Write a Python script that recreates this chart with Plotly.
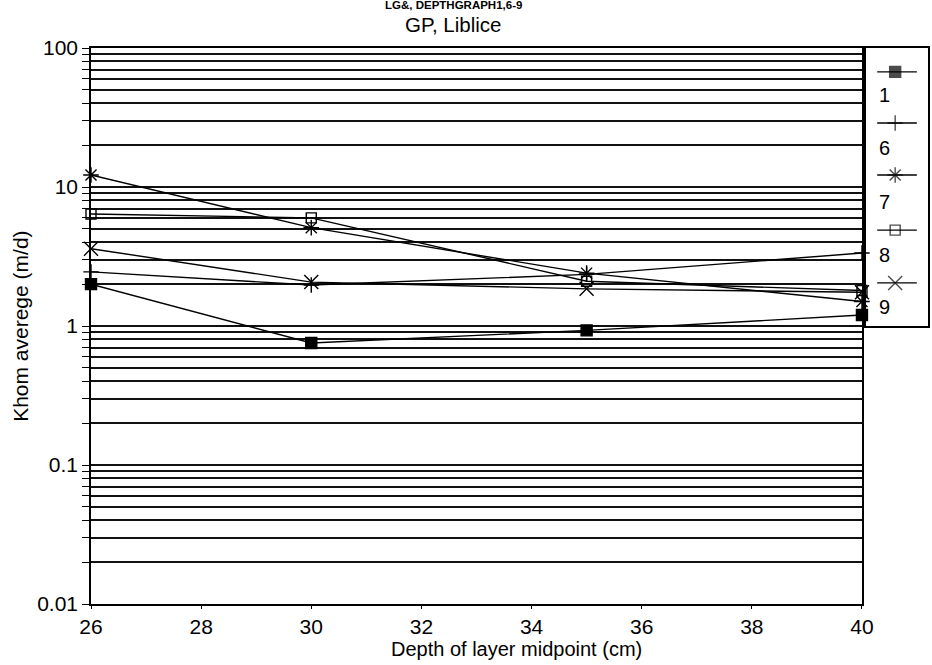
import plotly.graph_objects as go

# Depth of layer midpoint (cm)
depths = [26, 30, 35, 40]

# Average Khom (m/d) for each profile
series_names = ["1", "6", "7", "8", "9"]
khom_1 = [2.0, 0.755, 0.93, 1.2]
khom_6 = [2.45, 1.97, 2.35, 3.35]
khom_7 = [12.2, 5.1, 2.4, 1.5]
khom_8 = [6.4, 6.0, 2.1, 1.8]
khom_9 = [3.6, 2.07, 1.85, 1.75]

# Log-axis ticks: labels on decades, grid on every 1..9 step
decades = [0.01, 0.1, 1, 10, 100]
decade_labels = ["0.01", "0.1", "1", "10", "100"]

FONT = "Liberation Sans, Arial, Helvetica, sans-serif"
INK = "#000000"

series_values = [khom_1, khom_6, khom_7, khom_8, khom_9]
symbols = ["square", "cross-thin-open", "asterisk-open", "square-open", "x-thin-open"]
sizes = [11, 11, 13, 10, 14]

fig = go.Figure()

for name, vals, sym, sz in zip(series_names, series_values, symbols, sizes):
    fig.add_trace(go.Scatter(
        x=depths, y=vals, name=name, mode="lines+markers",
        line=dict(color=INK, width=1.4),
        marker=dict(symbol=sym, size=sz, color=INK,
                    line=dict(color=INK, width=1.4)),
        cliponaxis=False, showlegend=False,
    ))

# Key panel: a small separate axis pair to the right of the plot
key_rows = [0.914, 0.730, 0.543, 0.345, 0.155]
key_label_rows = [0.831, 0.640, 0.446, 0.255, 0.068]
for name, sym, sz, ry in zip(series_names, symbols, sizes, key_rows):
    fig.add_trace(go.Scatter(
        x=[0.18, 0.47, 0.82], y=[ry, ry, ry], mode="lines+markers",
        line=dict(color=INK, width=1.4),
        marker=dict(symbol=sym, size=[0, sz, 0], color=INK,
                    line=dict(color=INK, width=1.4)),
        xaxis="x2", yaxis="y2", showlegend=False, hoverinfo="skip",
        cliponaxis=False,
    ))

annotations = []
for name, ly in zip(series_names, key_label_rows):
    annotations.append(dict(
        x=0.17, y=ly, xref="x2", yref="y2", text=name, showarrow=False,
        xanchor="left", yanchor="middle",
        font=dict(family=FONT, size=20, color=INK),
    ))

# Titles
annotations += [
    dict(x=0.4325, y=1.0765, xref="paper", yref="paper",
         text="<b>LG&amp;, DEPTHGRAPH1,6-9</b>", showarrow=False,
         xanchor="center", yanchor="middle",
         font=dict(family=FONT, size=11.5, color=INK)),
    dict(x=0.4325, y=1.043, xref="paper", yref="paper",
         text="GP, Liblice", showarrow=False,
         xanchor="center", yanchor="middle",
         font=dict(family=FONT, size=20.5, color=INK)),
    dict(x=0.5089, y=-0.081, xref="paper", yref="paper",
         text="Depth of layer midpoint (cm)", showarrow=False,
         xanchor="center", yanchor="middle",
         font=dict(family=FONT, size=20, color=INK)),
    dict(x=-0.085, y=0.5, xref="paper", yref="paper",
         text="Khom averege (m/d)", showarrow=False, textangle=-90,
         xanchor="center", yanchor="middle",
         font=dict(family=FONT, size=21, color=INK)),
]

grid_vals = []
grid_text = []
for d, lab in zip(decades, decade_labels):
    if d == decades[-1]:
        grid_vals.append(d)
        grid_text.append(lab)
        break
    for k in range(1, 10):
        grid_vals.append(d * k)
        grid_text.append(lab if k == 1 else "")

fig.update_layout(
    width=944, height=665, autosize=False,
    margin=dict(l=91, r=4, t=48, b=61),
    paper_bgcolor="white", plot_bgcolor="white",
    font=dict(family=FONT, size=21, color=INK),
    annotations=annotations,
    xaxis=dict(
        domain=[0, 0.9211], range=[26, 40], tick0=26, dtick=2,
        showgrid=False, zeroline=False,
        showline=True, linecolor=INK, linewidth=1.6, mirror=True,
        ticks="outside", ticklen=3, tickwidth=1.4, tickcolor=INK,
        tickfont=dict(family=FONT, size=21, color=INK),
    ),
    yaxis=dict(
        type="log", range=[-2, 2],
        tickmode="array", tickvals=grid_vals, ticktext=grid_text,
        showgrid=True, gridcolor="#111111", gridwidth=1.9,
        zeroline=False,
        showline=True, linecolor=INK, linewidth=1.6, mirror=True,
        ticks="outside", ticklen=7, tickwidth=1.4, tickcolor=INK,
        tickfont=dict(family=FONT, size=21, color=INK),
    ),
    xaxis2=dict(
        domain=[0.926, 1.0], range=[0, 1], anchor="y2",
        showgrid=False, zeroline=False, showticklabels=False, ticks="",
        showline=True, linecolor=INK, linewidth=1.6, mirror=True,
        fixedrange=True,
    ),
    yaxis2=dict(
        domain=[0.5, 1.0], range=[0, 1], anchor="x2",
        showgrid=False, zeroline=False, showticklabels=False, ticks="",
        showline=True, linecolor=INK, linewidth=1.6, mirror=True,
        fixedrange=True,
    ),
)

fig.write_html("out.html", config={"responsive": False})
